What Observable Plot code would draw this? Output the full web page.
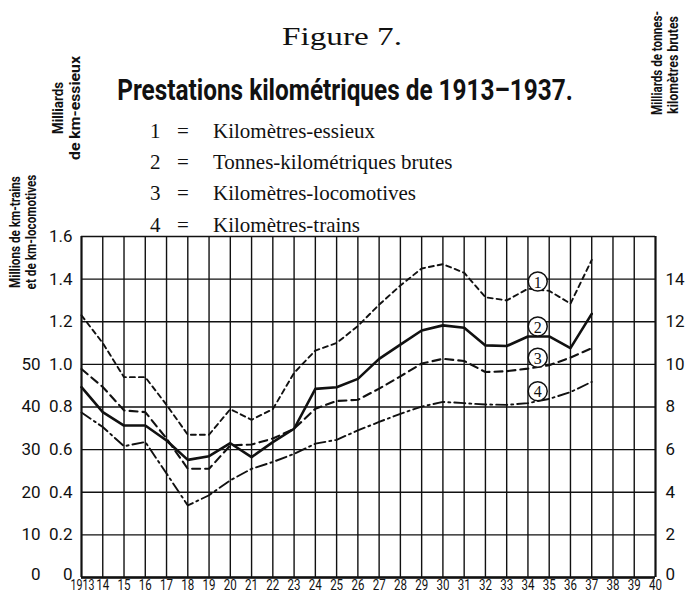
<!DOCTYPE html>
<html><head><meta charset="utf-8">
<script src="https://cdn.jsdelivr.net/npm/d3@7"></script>
<script src="https://cdn.jsdelivr.net/npm/@observablehq/plot@0.6"></script>
<style>
body{margin:0;background:#fff;}
#wrap{position:relative;width:689px;height:595px;overflow:hidden;}
#wrap svg{position:absolute;left:0;top:0;}
</style></head><body><div id="wrap"></div>
<script>
// ---- data ----
const years = [1913,1914,1915,1916,1917,1918,1919,1920,1921,1922,1923,1924,1925,1926,1927,1928,1929,1930,1931,1932,1933,1934,1935,1936,1937];
// 1 = Kilomètres-essieux (milliards)
const essieux = [1.23,1.10,0.94,0.94,0.81,0.67,0.67,0.79,0.74,0.79,0.96,1.065,1.10,1.18,1.28,1.37,1.45,1.47,1.43,1.315,1.30,1.355,1.345,1.285,1.49];
// 2 = Tonnes-kilométriques brutes (milliards)
const tkm = [8.93,7.76,7.13,7.13,6.43,5.52,5.69,6.30,5.65,6.35,6.98,8.85,8.93,9.32,10.26,10.93,11.59,11.83,11.72,10.89,10.86,11.31,11.31,10.76,12.37];
// 3 = Kilomètres-locomotives (millions)
const locos = [48.9,44.7,39.2,38.8,32.6,25.5,25.5,31.0,31.2,32.6,34.9,39.6,41.4,41.7,44.3,47.2,50.2,51.3,50.8,48.2,48.4,49.0,49.8,51.6,53.8];
// 4 = Kilomètres-trains (millions)
const trains = [38.7,35.3,30.8,31.8,24.4,16.9,19.3,22.8,25.5,27.1,29.0,31.4,32.3,34.5,36.5,38.4,40.1,41.2,40.9,40.6,40.5,40.9,41.9,43.5,45.9];

const seriesNames = ["Kilomètres-essieux","Tonnes-kilométriques brutes","Kilomètres-locomotives","Kilomètres-trains"];
const seriesIds = ["1","2","3","4"];
const xTicks = [1913,1914,1915,1916,1917,1918,1919,1920,1921,1922,1923,1924,1925,1926,1927,1928,1929,1930,1931,1932,1933,1934,1935,1936,1937,1938,1939,1940];
const xTickLabels = ["1913","14","15","16","17","18","19","20","21","22","23","24","25","26","27","28","29","30","31","32","33","34","35","36","37","38","39","40"];
const innerTicks = [0,0.2,0.4,0.6,0.8,1.0,1.2,1.4,1.6];
const innerLabels = ["0","0.2","0.4","0.6","0.8","1.0","1.2","1.4","1.6"];
const outerTicks = [0,10,20,30,40,50];
const rightTicks = [0,2,4,6,8,10,12,14];
// circled series labels
const labelYear = [1934.46,1934.46,1934.46,1934.46];
const labelPos = [1.389,1.178,1.031,0.874];

// units of the common vertical scale (milliards de km-essieux)
const kTkm = 10, kMill = 50;

const rows = (arr, k) => years.map((y,i)=>({year:y, v: arr[i]/k}));
const labels = seriesIds.map((n,i)=>({year:labelYear[i], v:labelPos[i], n}));

const sans = "Roboto, 'DejaVu Sans', sans-serif";
const serif = "'Liberation Serif', 'DejaVu Serif', serif";

const chart = Plot.plot({
  width: 689, height: 595,
  marginTop: 236, marginLeft: 81, marginRight: 34, marginBottom: 18,
  x: {domain:[1913,1940], label:null},
  y: {domain:[0,1.6], label:null},
  style: {background:"transparent"},
  marks: [
    Plot.ruleX(xTicks, {x: d=>d, stroke:"#111", strokeWidth:1.4}),
    Plot.ruleY(innerTicks, {y: d=>d, stroke:"#111", strokeWidth:1.4}),
    Plot.ruleY([0], {y: d=>d, stroke:"#111", strokeWidth:2.6}),
    Plot.ruleX([1913], {x: d=>d, stroke:"#111", strokeWidth:2}),
    Plot.ruleX([1940], {x: d=>d, stroke:"#111", strokeWidth:2}),
    Plot.axisX(xTicks, {label:null, tickSize:0, tickPadding:3, tickFormat:(d)=>xTickLabels[xTicks.indexOf(d)], fontSize:14, fontFamily:sans, fill:"#111"}),
    Plot.axisY(innerTicks, {label:null, anchor:"left", tickSize:0, tickPadding:9, tickFormat:(d)=>innerLabels[innerTicks.indexOf(d)], fontSize:17, fontFamily:sans, fill:"#111"}),
    Plot.axisY(outerTicks.map(d=>d/kMill), {label:null, anchor:"left", tickSize:0, tickPadding:41, tickFormat:(d)=>String(Math.round(d*kMill)), fontSize:17, fontFamily:sans, fill:"#111"}),
    Plot.axisY(rightTicks.map(d=>d/kTkm), {label:null, anchor:"right", tickSize:0, tickPadding:10, tickFormat:(d)=>String(Math.round(d*kTkm)), fontSize:17, fontFamily:sans, fill:"#111"}),
    Plot.line(rows(essieux,1), {x:"year", y:"v", stroke:"#111", strokeWidth:1.9, strokeDasharray:"5,4"}),
    Plot.line(rows(tkm,kTkm), {x:"year", y:"v", stroke:"#111", strokeWidth:2.6}),
    Plot.line(rows(locos,kMill), {x:"year", y:"v", stroke:"#111", strokeWidth:2.1, strokeDasharray:"8,5"}),
    Plot.line(rows(trains,kMill), {x:"year", y:"v", stroke:"#111", strokeWidth:1.9, strokeDasharray:"11,4,2,4"}),
    Plot.dot(labels, {x:"year", y:"v", r:9.5, fill:"white", stroke:"#111", strokeWidth:1.5}),
    Plot.text(labels, {x:"year", y:"v", text:"n", fontSize:16, fontFamily:serif, fill:"#111", dy:1})
  ]
});
document.getElementById("wrap").appendChild(chart);

// condensed x tick labels (horizontal squeeze around each label's anchor)
d3.select(chart).selectAll('g[aria-label="x-axis tick label"] text').each(function(){
  const t = this.textContent.trim();
  const target = t.length===4 ? 24 : 13;
  const w = this.getComputedTextLength() || target;
  const tr = this.getAttribute("transform") || "";
  this.setAttribute("transform", tr + (t.length===4 ? " translate(1,0)" : "") + ` scale(${(target/w).toFixed(3)},1)`);
});
// lift the zero labels on the left a little, clear of the year labels
d3.select(chart).selectAll('g[aria-label="y-axis tick label"] text').each(function(){
  if (this.textContent.trim()==="0") {
    const tr = this.getAttribute("transform") || "";
    this.setAttribute("transform", tr + " translate(0,-3)");
  }
});

// ---- annotations (titles, legend, axis titles) ----
const ov = d3.select("#wrap").append("svg").attr("width",689).attr("height",595)
  .attr("font-family", sans).attr("fill","#111");
function txt(x,y,s,o={}){
  const t = ov.append("text").attr("x",0).attr("y",0).text(s)
    .attr("font-size",o.size||14).attr("font-family",o.family||sans)
    .attr("font-weight",o.weight||"normal").attr("text-anchor",o.anchor||"start");
  let tr = `translate(${x},${y})` + (o.rot ? " rotate(-90)" : "");
  if(o.len){
    const w = t.node().getComputedTextLength() || o.len;
    tr += ` scale(${(o.len/w).toFixed(3)},1)`;
  }
  t.attr("transform", tr);
  return t;
}
txt(342,45,"Figure 7.",{size:25,family:serif,anchor:"middle",len:120});
txt(345,100,"Prestations kilométriques de 1913–1937.",{size:30,weight:"bold",anchor:"middle",len:456});
const legY=[138,169,200,232];
seriesNames.forEach((s,i)=>{
  txt(150,legY[i],seriesIds[i],{size:21,family:serif});
  txt(177,legY[i],"=",{size:21,family:serif});
  txt(213,legY[i],s,{size:21,family:serif});
});
// left outer axis title
txt(20,232,"Millions de km-trains",{size:14,weight:"bold",anchor:"middle",rot:true,len:112});
txt(36,232,"et de km-locomotives",{size:14,weight:"bold",anchor:"middle",rot:true,len:115});
// left inner axis title
txt(63,108,"Milliards",{size:14,weight:"bold",anchor:"middle",rot:true,len:52});
txt(80,108,"de km-essieux",{size:14,weight:"bold",anchor:"middle",rot:true,len:104});
// right axis title
txt(662,63,"Milliards de tonnes-",{size:14,weight:"bold",anchor:"middle",rot:true,len:104});
txt(678,65,"kilomètres brutes",{size:14,weight:"bold",anchor:"middle",rot:true,len:98});
</script></body></html>
